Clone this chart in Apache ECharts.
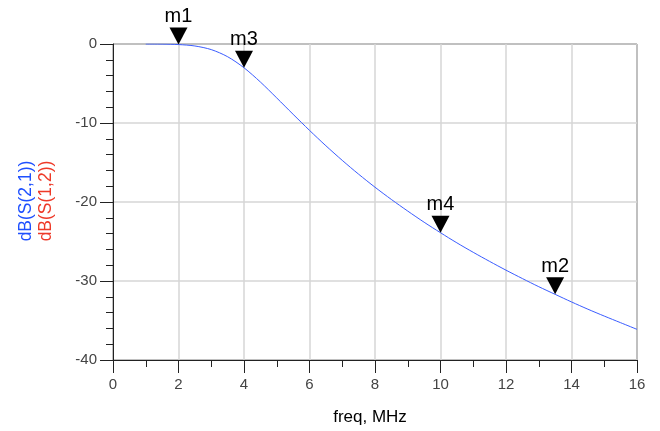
<!DOCTYPE html>
<html>
<head>
<meta charset="utf-8">
<script src="https://cdn.jsdelivr.net/npm/echarts@6/dist/echarts.min.js"></script>
<style>
  html, body { margin: 0; padding: 0; background: #fff; }
  #chart { width: 660px; height: 431px; }
</style>
</head>
<body>
<div id="chart"></div>
<script>
// Frequency sweep (MHz) and transmission magnitude dB(S(2,1))
const freq = [1, 1.5, 2, 2.5, 3, 3.5, 4, 4.5, 5, 5.5, 6, 6.5, 7, 7.5, 8, 8.5,
              9, 9.5, 10, 10.5, 11, 11.5, 12, 12.5, 13, 13.5, 14, 14.5, 15, 15.5, 16];
const s21dB = [0.00, -0.01, -0.07, -0.25, -0.71, -1.61, -3.01, -4.81, -6.83, -8.90,
               -10.93, -12.88, -14.73, -16.48, -18.13, -19.68, -21.15, -22.56, -23.89,
               -25.17, -26.37, -27.52, -28.63, -29.69, -30.72, -31.69, -32.65, -33.57,
               -34.44, -35.28, -36.12];

// Markers placed on the trace
const markerNames = ['m1', 'm3', 'm4', 'm2'];
const markerFreq = [2, 4, 10, 13.5];
const markerDB = [-0.07, -3.01, -23.89, -31.69];

// Axis ranges / tick steps
const xMin = 0, xMax = 16, xStep = 2;
const yMin = -40, yMax = 0, yStep = 10;

const font = 'Arial, "Liberation Sans", sans-serif';

const chart = echarts.init(document.getElementById('chart'), null, { renderer: 'canvas' });

const tracePoints = freq.map((f, i) => [f, s21dB[i]]);
const markerPoints = markerFreq.map((f, i) => ({ value: [f, markerDB[i]], name: markerNames[i] }));

chart.setOption({
  animation: false,
  backgroundColor: '#ffffff',
  grid: {
    left: 113, right: 23, top: 44, bottom: 71,
    show: true, borderColor: '#000000', borderWidth: 1, backgroundColor: 'transparent'
  },
  xAxis: {
    type: 'value', min: xMin, max: xMax, interval: xStep,
    name: 'freq, MHz', nameLocation: 'middle', nameGap: 49,
    nameTextStyle: { fontFamily: font, fontSize: 17, color: '#000', padding: [0, 10, 0, 0] },
    axisLine: { show: true, onZero: false, lineStyle: { color: '#222', width: 1 } },
    axisTick: { show: true, inside: false, length: 13, lineStyle: { color: '#222' } },
    minorTick: { show: true, splitNumber: 2, length: 7, lineStyle: { color: '#222' } },
    axisLabel: { margin: 17, fontFamily: font, fontSize: 15, color: '#444' },
    splitLine: { show: true, lineStyle: { color: '#d6d6d6', width: 1.5 } }
  },
  yAxis: {
    type: 'value', min: yMin, max: yMax, interval: yStep,
    axisLine: { show: true, onZero: false, lineStyle: { color: '#222', width: 1 } },
    axisTick: { show: true, inside: false, length: 13, lineStyle: { color: '#222' } },
    minorTick: { show: true, splitNumber: 5, length: 7, lineStyle: { color: '#222' } },
    axisLabel: { margin: 16, fontFamily: font, fontSize: 15, color: '#444' },
    splitLine: { show: true, lineStyle: { color: '#d6d6d6', width: 1.5 } }
  },
  graphic: [
    {
      type: 'text', x: 26, y: 201, rotation: Math.PI / 2,
      style: { text: 'dB(S(2,1))', fill: '#1e50ff', font: '17.5px ' + font,
               textAlign: 'center', textVerticalAlign: 'middle' }
    },
    {
      type: 'text', x: 46, y: 201, rotation: Math.PI / 2,
      style: { text: 'dB(S(1,2))', fill: '#ee3a28', font: '17.5px ' + font,
               textAlign: 'center', textVerticalAlign: 'middle' }
    }
  ],
  series: [
    {
      name: 'dB(S(2,1))', type: 'line', data: tracePoints,
      showSymbol: false, smooth: 0.3,
      lineStyle: { color: '#3a5cff', width: 1 }, z: 3
    },
    {
      name: 'markers', type: 'scatter', data: markerPoints,
      symbol: 'path://M0,0 L18,0 L9,17 Z', symbolSize: [18, 17], symbolOffset: [0, '-50%'],
      itemStyle: { color: '#000', opacity: 1 },
      label: {
        show: true, position: 'top', distance: 1,
        formatter: p => p.name, fontFamily: font, fontSize: 20, color: '#000'
      },
      emphasis: { disabled: true },
      z: 5
    }
  ]
});
</script>
</body>
</html>
